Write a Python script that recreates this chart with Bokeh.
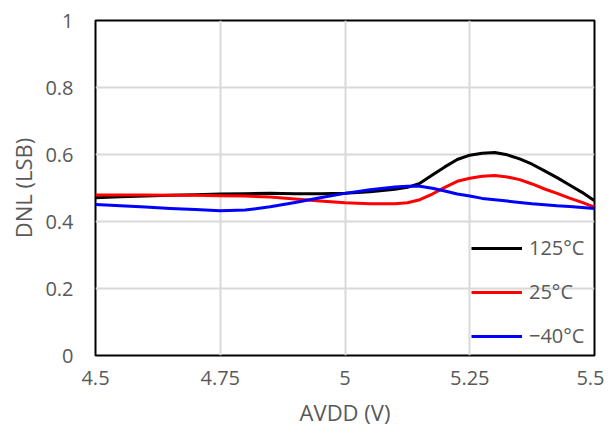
from bokeh.plotting import figure
from bokeh.models import FixedTicker, CustomJSTickFormatter
from bokeh.embed import file_html
from bokeh.resources import INLINE

# AVDD (V)
avdd = [4.5, 4.55, 4.6, 4.65, 4.7, 4.75, 4.8, 4.85, 4.9, 4.95, 5.0, 5.05, 5.1,
        5.125, 5.15, 5.175, 5.2, 5.225, 5.25, 5.275, 5.3, 5.325, 5.35, 5.375,
        5.4, 5.425, 5.45, 5.475, 5.5]
# DNL (LSB) per temperature
dnl_125 = [0.471, 0.474, 0.476, 0.478, 0.480, 0.482, 0.483, 0.484, 0.483, 0.483,
           0.484, 0.489, 0.496, 0.502, 0.514, 0.539, 0.563, 0.585, 0.598, 0.604,
           0.606, 0.599, 0.587, 0.571, 0.551, 0.531, 0.509, 0.487, 0.462]
dnl_25 = [0.479, 0.479, 0.479, 0.478, 0.478, 0.477, 0.476, 0.473, 0.467, 0.461,
          0.456, 0.453, 0.453, 0.456, 0.465, 0.482, 0.502, 0.520, 0.529, 0.535,
          0.537, 0.533, 0.525, 0.512, 0.497, 0.484, 0.470, 0.457, 0.443]
dnl_m40 = [0.451, 0.447, 0.443, 0.439, 0.436, 0.432, 0.434, 0.444, 0.457, 0.471,
           0.484, 0.495, 0.503, 0.505, 0.505, 0.499, 0.491, 0.482, 0.476, 0.469,
           0.465, 0.461, 0.457, 0.453, 0.450, 0.447, 0.445, 0.442, 0.439]

series = [("125°C", dnl_125, "#000000"),
          ("25°C", dnl_25, "#ff0000"),
          ("\u221240°C", dnl_m40, "#0000ff")]

x_ticks = [4.5, 4.75, 5.0, 5.25, 5.5]
y_ticks = [0, 0.2, 0.4, 0.6, 0.8, 1.0]

FONT = "Open Sans"
GRAY = "#595959"

p = figure(width=604, height=429, output_backend="svg",
           toolbar_location=None, x_range=(4.5, 5.5), y_range=(0, 1),
           min_border_left=95, min_border_right=10, min_border_top=20,
           min_border_bottom=74)

for label, ys, color in series:
    p.line(avdd, ys, line_color=color, line_width=3, legend_label=label,
           line_join="round")

fmt = CustomJSTickFormatter(code="return String(Number(tick.toFixed(2)));")
for ax, ticks in ((p.xaxis, x_ticks), (p.yaxis, y_ticks)):
    ax.ticker = FixedTicker(ticks=ticks)
    ax.formatter = fmt
    ax.axis_line_color = None
    ax.major_tick_line_color = None
    ax.minor_tick_line_color = None
    ax.major_tick_out = 0
    ax.major_tick_in = 0
    ax.minor_tick_out = 0
    ax.major_label_text_font = FONT
    ax.major_label_text_font_size = "20px"
    ax.major_label_text_color = GRAY
    ax.axis_label_text_font = FONT
    ax.axis_label_text_font_size = "22px"
    ax.axis_label_text_font_style = "normal"
    ax.axis_label_text_color = GRAY

p.xaxis.axis_label = "AVDD (V)"
p.yaxis.axis_label = "DNL (LSB)"
p.xaxis.major_label_standoff = 15
p.xaxis.axis_label_standoff = 9
p.yaxis.major_label_standoff = 22
p.yaxis.axis_label_standoff = 4

p.xgrid.ticker = FixedTicker(ticks=x_ticks)
p.ygrid.ticker = FixedTicker(ticks=y_ticks)
for g in (p.xgrid, p.ygrid):
    g.grid_line_color = "#d9d9d9"
    g.grid_line_width = 2

p.outline_line_color = "black"
p.outline_line_width = 2
p.outline_line_alpha = 1
p.background_fill_color = "white"
p.border_fill_color = "white"

lg = p.legend[0]
lg.location = (376, 6)
lg.background_fill_alpha = 0
lg.border_line_color = None
lg.padding = 0
lg.margin = 0
lg.spacing = 17
lg.glyph_width = 51
lg.glyph_height = 20
lg.label_height = 20
lg.label_standoff = 7
lg.label_text_font = FONT
lg.label_text_font_size = "20px"
lg.label_text_color = GRAY

open("out.html", "w").write(file_html(p, INLINE))
